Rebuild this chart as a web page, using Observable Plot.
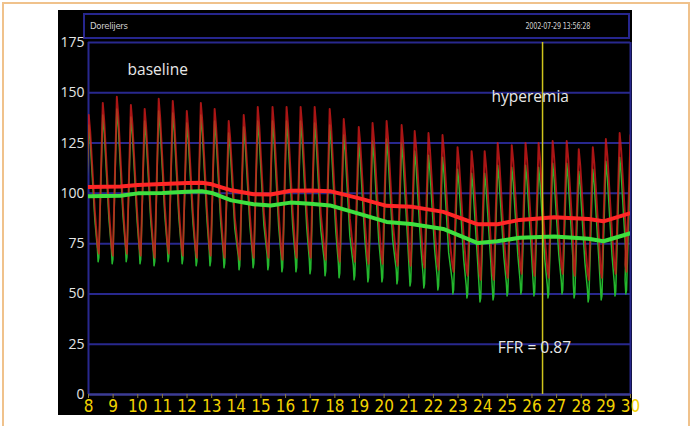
<!DOCTYPE html>
<html><head><meta charset="utf-8">
<script src="https://cdn.jsdelivr.net/npm/d3@7"></script>
<script src="https://cdn.jsdelivr.net/npm/@observablehq/plot@0.6"></script>
<style>
html,body{margin:0;padding:0;background:#fff;}
#wrap{position:relative;width:691px;height:426px;overflow:hidden;font-family:"Open Sans",sans-serif;}
#border{position:absolute;left:2px;top:2px;width:684px;height:440px;border:2px solid #f0c28c;}
#panel{position:absolute;left:58px;top:10px;width:574px;height:405px;background:#000;}
#header{position:absolute;left:83px;top:13px;width:543px;height:22px;border:2px solid #26268e;
  font-family:"Liberation Sans Narrow","DejaVu Sans Condensed",sans-serif;font-size:9.5px;color:#cfcfcf;letter-spacing:-0.3px;}
#hname{position:absolute;left:5px;top:5px;}
#hdate{position:absolute;right:38px;top:5px;display:inline-block;transform:scaleX(0.76);transform-origin:100% 50%;white-space:nowrap;}
#chart{position:absolute;left:0;top:0;}
</style></head>
<body>
<div id="wrap">
  <div id="border"></div>
  <div id="panel"></div>
  <div id="header"><span id="hname"></span><span id="hdate"></span></div>
  <div id="chart"></div>
</div>
<script>
// ---- data ----
const headerName = "Dorelijers";
const headerDate = "2002-07-29 13:56:28";
const xTicks = [8,9,10,11,12,13,14,15,16,17,18,19,20,21,22,23,24,25,26,27,28,29,30];
const yTicks = [0,25,50,75,100,125,150,175];
const gridValues = [25,50,75,100,125,150,175];
const hyperemiaTime = [26.43];

// beat peak times (s) and per-beat pressures (mmHg)
const beatTime = [8.01,8.58,9.15,9.72,10.28,10.85,11.42,11.99,12.56,13.12,13.69,14.30,14.87,15.47,16.04,16.61,17.18,17.79,18.36,18.97,19.53,20.10,20.71,21.24,21.80,22.37,22.98,23.55,24.08,24.61,25.18,25.74,26.27,26.84,27.41,27.90,28.47,29.00,29.56,30.00];
const paSys = [139,145,148,144,142,147,146,141,145,142,136,139,143,143,143,143,143,142,137,133,135,136,134,131,130,129,123,121,121,125,124,125,125,126,126,122,123,127,130,129];
const paDia = [70,69,70,69,68,70,69,68,69,68,67,68,68,67,68,68,67,66,66,65,65,64,64,63,62,61,59,57,57,58,60,59,58,60,59,57,58,60,61,62];
const pdSys = [134,139,142,138,136,141,140,135,139,136,130,133,136,136,136,136,135,134,129,125,126,127,125,121,119,118,112,110,110,114,113,114,113,115,115,111,112,116,118,118];
const pdDia = [66,65,66,65,64,66,65,64,64,63,62,63,62,61,61,60,59,58,57,56,56,55,54,53,52,50,48,46,47,49,50,49,48,50,48,46,47,49,50,51];

// mean pressures
const meanTime = [8.0,9.3,10.0,11.0,12.0,12.6,13.0,13.8,14.7,15.4,16.2,17.0,17.8,19.0,20.1,21.1,22.4,23.8,24.6,25.5,26.9,28.3,28.9,30.0];
const paMean = [103.2,103.4,104.2,104.6,105.2,105.3,104.5,101.5,99.6,99.4,101.3,101.4,101.1,97.5,93.8,93.4,90.8,84.6,84.6,86.8,88.1,87.3,86.1,90.2];
const pdMean = [98.6,98.8,100,100.2,100.8,101,100.2,96.5,94.6,94,95.4,94.8,94,89.8,85.8,84.8,82.3,75.3,76.2,77.9,78.5,77.4,76.2,80.2];

const noteLabels = ["baseline","hyperemia","FFR = 0.87"];
const noteX = [10.81, 25.93, 26.1];
const noteY = [161.2, 147.9, 23.1];

// ---- build beat waveforms from the per-beat values ----
function wave(sys, dia, hook) {
  const pts = [];
  for (let i = 0; i < beatTime.length; i++) {
    const tp = beatTime[i];
    const next = i < beatTime.length - 1 ? beatTime[i + 1] : tp + 0.56;
    const amp = sys[i] - dia[i];
    if (i === 0) pts.push({t: tp - 0.16, v: dia[0]});
    pts.push({t: tp, v: sys[i]});
    pts.push({t: tp + 0.06, v: sys[i] - 0.12 * amp});
    pts.push({t: tp + 0.25, v: dia[i] + 0.3 * amp});
    if (hook) {
      pts.push({t: next - 0.22, v: dia[i] + 0.1 * amp});
      pts.push({t: next - 0.19, v: dia[i]});
      pts.push({t: next - 0.16, v: dia[i] + 0.03 * amp});
    } else {
      pts.push({t: next - 0.21, v: dia[i] + 0.05 * amp});
      pts.push({t: next - 0.16, v: dia[i]});
    }
  }
  return pts;
}
const paWave = wave(paSys, paDia, false);
const pdWave = wave(pdSys, pdDia, true);
const paMeanData = meanTime.map((t, i) => ({t, v: paMean[i]}));
const pdMeanData = meanTime.map((t, i) => ({t, v: pdMean[i]}));
const notes = noteLabels.map((s, i) => ({s, x: noteX[i], y: noteY[i]}));

document.getElementById("hname").textContent = headerName;
document.getElementById("hdate").textContent = headerDate;

const plot = Plot.plot({
  width: 691, height: 426,
  marginLeft: 88, marginRight: 61, marginTop: 42, marginBottom: 32,
  x: {domain: [8, 30]},
  y: {domain: [0, 175]},
  style: {background: "transparent", fontFamily: "'Open Sans', sans-serif", overflow: "visible"},
  marks: [
    Plot.ruleY(gridValues, {stroke: "#28288e", strokeWidth: 2}),
    Plot.ruleX([8, 30], {stroke: "#28288e", strokeWidth: 2}),
    Plot.ruleY([0], {stroke: "#3c3c96", strokeWidth: 2.5}),
    Plot.line(pdWave, {x: "t", y: "v", stroke: "#24b82e", strokeWidth: 1.5, clip: true}),
    Plot.line(paWave, {x: "t", y: "v", stroke: "#d01a1a", strokeWidth: 1.9, strokeOpacity: 0.82, clip: true}),
    Plot.line(pdMeanData, {x: "t", y: "v", stroke: "#3ee03e", strokeWidth: 4, clip: true}),
    Plot.line(paMeanData, {x: "t", y: "v", stroke: "#ff2626", strokeWidth: 4, clip: true}),
    Plot.ruleX(hyperemiaTime, {stroke: "#cfc51c", strokeWidth: 1.5}),
    Plot.axisX({ticks: xTicks, tickSize: 4, tickPadding: 1, stroke: "#8c7c3c", fill: "#f2d200",
      fontSize: 17, fontFamily: "'Liberation Sans Narrow', 'DejaVu Sans Condensed', sans-serif", tickFormat: d => String(d), label: null}),
    Plot.axisY({ticks: yTicks, tickSize: 0, tickPadding: 4, fill: "#e4e4e4", fontSize: 14, tickFormat: d => String(d), label: null}),
    Plot.text(notes, {x: "x", y: "y", text: "s", fill: "#e8e8e8", fontSize: 15.5})
  ]
});
document.getElementById("chart").appendChild(plot);
</script>
</body></html>
